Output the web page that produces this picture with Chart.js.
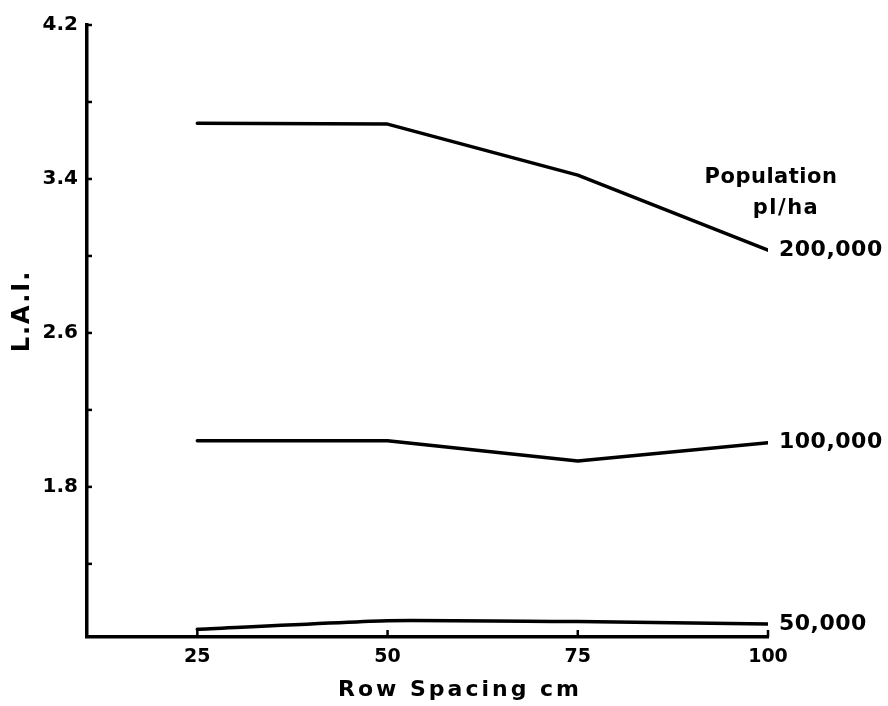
<!DOCTYPE html>
<html>
<head>
<meta charset="utf-8">
<title>L.A.I. vs Row Spacing</title>
<script src="https://cdn.jsdelivr.net/npm/chart.js@4/dist/chart.umd.min.js"></script>
<style>
  html, body { margin: 0; padding: 0; background: #fff; }
  canvas { display: block; }
</style>
</head>
<body>
<canvas id="chart-lai" width="888" height="706"></canvas>
<script>
// ── Data ───────────────────────────────────────────────────────
const rowSpacing   = [25, 50, 75, 100];
const pop200k      = [3.69, 3.685, 3.42, 3.03];
const pop100k      = [2.04, 2.04, 1.935, 2.03];
const pop50k       = [1.06, 1.105, 1.10, 1.088];
const seriesLabels = ['200,000', '100,000', '50,000'];

const xTicks       = [25, 50, 75, 100];
const yTickLabels  = [1.8, 2.6, 3.4, 4.2];
const yMinorTicks  = [1.4, 2.2, 3.0, 3.8];

const FONT = "'DejaVu Sans', sans-serif";
const INK  = '#000';

function toPoints(values) {
  return rowSpacing.map((x, i) => ({ x, y: values[i] }));
}

// inward tick marks, axis titles and the labels at the line ends
const annotate = {
  id: 'annotate',
  afterDraw(chart) {
    const { ctx, chartArea, scales: { x, y } } = chart;
    ctx.save();
    ctx.strokeStyle = INK;
    ctx.fillStyle   = INK;
    ctx.lineWidth   = 2.5;

    // tick marks point into the plot
    xTicks.forEach((v) => {
      const px = x.getPixelForValue(v);
      ctx.beginPath();
      ctx.moveTo(px, chartArea.bottom);
      ctx.lineTo(px, chartArea.bottom - 7);
      ctx.stroke();
    });
    [...yTickLabels, ...yMinorTicks].forEach((v) => {
      const py = y.getPixelForValue(v);
      ctx.beginPath();
      ctx.moveTo(chartArea.left - 1, py);
      ctx.lineTo(chartArea.left + 5, py);
      ctx.stroke();
    });

    // y title
    ctx.save();
    ctx.translate(23, 311);
    ctx.rotate(-Math.PI / 2);
    ctx.font = `bold 24px ${FONT}`;
    ctx.letterSpacing = '2px';
    ctx.textAlign = 'center';
    ctx.textBaseline = 'middle';
    ctx.fillText('L.A.I.', 0, 0);
    ctx.restore();

    // x title
    ctx.font = `bold 22px ${FONT}`;
    ctx.letterSpacing = '3px';
    ctx.textAlign = 'center';
    ctx.textBaseline = 'middle';
    ctx.fillText('Row Spacing cm', 460, 690);

    // legend heading
    ctx.font = `bold 21px ${FONT}`;
    ctx.letterSpacing = '0.5px';
    ctx.fillText('Population', chartArea.right + 3, 178);
    ctx.letterSpacing = '1.5px';
    ctx.fillText('pl/ha', chartArea.right + 18, 209);

    // series labels at the end of each line
    ctx.font = `bold 22px ${FONT}`;
    ctx.letterSpacing = '0.5px';
    ctx.textAlign = 'left';
    chart.data.datasets.forEach((ds, i) => {
      const last = ds.data[ds.data.length - 1];
      ctx.fillText(seriesLabels[i], x.getPixelForValue(last.x) + 11, y.getPixelForValue(last.y));
    });
    ctx.restore();
  },
};

const lineStyle = {
  borderColor:     INK,
  borderWidth:     3.5,
  pointRadius:     0,
  borderCapStyle:  'round',
  borderJoinStyle: 'round',
  fill:            false,
};

new Chart(document.getElementById('chart-lai'), {
  type: 'line',
  data: {
    datasets: [
      { ...lineStyle, label: seriesLabels[0], data: toPoints(pop200k), tension: 0 },
      { ...lineStyle, label: seriesLabels[1], data: toPoints(pop100k), tension: 0 },
      { ...lineStyle, label: seriesLabels[2], data: toPoints(pop50k),  tension: 0.15 },
    ],
  },
  options: {
    responsive: false,
    animation:  false,
    layout: { padding: { top: 25, right: 120, bottom: 0, left: 0 } },
    plugins: {
      legend:  { display: false },
      tooltip: { enabled: false },
    },
    scales: {
      x: {
        type: 'linear',
        min:  10.5,
        max:  100,
        afterBuildTicks: (scale) => { scale.ticks = xTicks.map((v) => ({ value: v })); },
        afterFit: (scale) => { scale.height = 69; },
        grid:   { display: false, drawTicks: false },
        border: { color: INK, width: 3.5 },
        ticks: {
          color:   INK,
          padding: 9,
          maxRotation: 0,
          font: { family: FONT, size: 19, weight: 'bold' },
        },
      },
      y: {
        min: 1.02,
        max: 4.2,
        afterBuildTicks: (scale) => { scale.ticks = yTickLabels.map((v) => ({ value: v })); },
        afterFit: (scale) => { scale.width = 87; },
        grid:   { display: false, drawTicks: false },
        border: { color: INK, width: 3.5 },
        ticks: {
          color:    INK,
          padding:  9,
          font:     { family: FONT, size: 20, weight: 'bold' },
          callback: (v) => v.toFixed(1),
        },
      },
    },
  },
  plugins: [annotate],
});
</script>
</body>
</html>
